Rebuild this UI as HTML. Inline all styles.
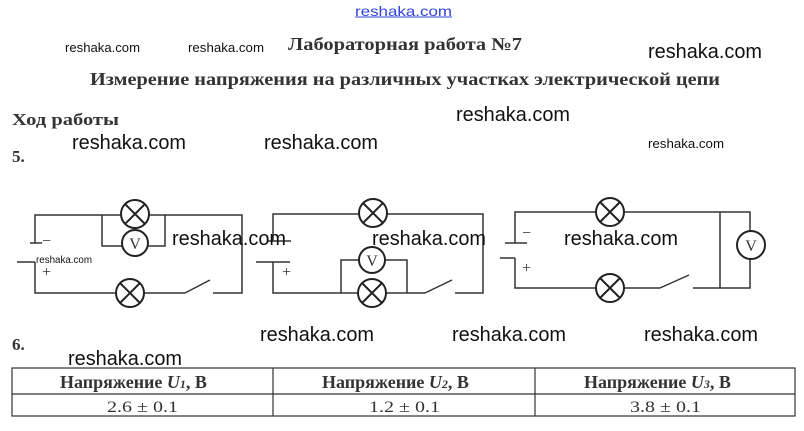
<!DOCTYPE html>
<html><head><meta charset="utf-8"><style>
html,body{margin:0;padding:0;background:#fff;width:804px;height:431px;overflow:hidden}
svg{display:block}
.t{font-family:"Liberation Serif",serif;font-weight:bold;fill:#333}
.w{font-family:"Liberation Sans","DejaVu Sans",sans-serif;fill:#111}
.l{stroke:#333;stroke-width:1.5;fill:none}
.c{stroke:#222;stroke-width:2;fill:#fff}
.v{font-family:"Liberation Serif",serif;font-size:16px;fill:#333}
</style></head><body>
<svg width="804" height="431" viewBox="0 0 804 431">
<text x="355" y="16" class="w" font-size="14" style="fill:#3344dd" textLength="97" lengthAdjust="spacingAndGlyphs">reshaka.com</text>
<line x1="355" y1="17" x2="452" y2="17" stroke="#3344dd" stroke-width="1"/>
<text x="288" y="50" class="t" font-size="18" textLength="234" lengthAdjust="spacingAndGlyphs">Лабораторная работа №7</text>
<text x="90" y="85" class="t" font-size="18" textLength="630" lengthAdjust="spacingAndGlyphs">Измерение напряжения на различных участках электрической цепи</text>
<text x="12" y="125" class="t" font-size="17" textLength="107" lengthAdjust="spacingAndGlyphs">Ход работы</text>
<text x="12" y="162" class="t" font-size="17">5.</text>
<text x="12" y="350" class="t" font-size="17">6.</text>

<text x="65" y="52" class="w" font-size="13" textLength="75" lengthAdjust="spacingAndGlyphs">reshaka.com</text>
<text x="188" y="52" class="w" font-size="13" textLength="76" lengthAdjust="spacingAndGlyphs">reshaka.com</text>
<text x="648" y="58" class="w" font-size="20" textLength="114" lengthAdjust="spacingAndGlyphs">reshaka.com</text>
<text x="456" y="121" class="w" font-size="20" textLength="114" lengthAdjust="spacingAndGlyphs">reshaka.com</text>
<text x="72" y="149" class="w" font-size="20" textLength="114" lengthAdjust="spacingAndGlyphs">reshaka.com</text>
<text x="264" y="149" class="w" font-size="20" textLength="114" lengthAdjust="spacingAndGlyphs">reshaka.com</text>
<text x="648" y="148" class="w" font-size="13" textLength="76" lengthAdjust="spacingAndGlyphs">reshaka.com</text>

<!-- circuit 1 -->
<path class="l" d="M35 243 V215 H242 V293 H213 M185 293 H35 V262 M102 215 V246 H165 V215"/>
<line class="l" x1="185" y1="293" x2="210" y2="280"/>
<line class="l" x1="30" y1="243" x2="42" y2="243"/>
<line class="l" x1="17" y1="262" x2="35" y2="262"/>
<text x="42" y="246" class="v" font-size="14">−</text>
<text x="42" y="277" class="v" font-size="14">+</text>
<g class="c"><circle cx="135" cy="214" r="14"/><path d="M125 204 L145 224 M145 204 L125 224"/></g>
<circle class="c" cx="135" cy="243" r="13"/><text x="135" y="249" class="v" text-anchor="middle">V</text>
<g class="c"><circle cx="130" cy="293" r="14"/><path d="M120 283 L140 303 M140 283 L120 303"/></g>

<!-- circuit 2 -->
<path class="l" d="M273 241 V214 H483 V293 H455 M425 293 H273 V262 M341 293 V260 H407 V293"/>
<line class="l" x1="425" y1="293" x2="452" y2="280"/>
<line class="l" x1="267" y1="241" x2="291" y2="241"/>
<line class="l" x1="256" y1="262" x2="290" y2="262"/>
<text x="282" y="277" class="v" font-size="14">+</text>
<g class="c"><circle cx="373" cy="213" r="14"/><path d="M363 203 L383 223 M383 203 L363 223"/></g>
<circle class="c" cx="372" cy="260" r="13"/><text x="372" y="266" class="v" text-anchor="middle">V</text>
<g class="c"><circle cx="372" cy="293" r="14"/><path d="M362 283 L382 303 M382 283 L362 303"/></g>

<!-- circuit 3 -->
<path class="l" d="M515 243 V212 H750 V288 H693 M660 288 H515 V258 M720 212 V288"/>
<line class="l" x1="660" y1="288" x2="689" y2="275"/>
<line class="l" x1="505" y1="243" x2="527" y2="243"/>
<line class="l" x1="500" y1="258" x2="515" y2="258"/>
<text x="522" y="238" class="v" font-size="14">−</text>
<text x="522" y="273" class="v" font-size="14">+</text>
<g class="c"><circle cx="610" cy="212" r="14"/><path d="M600 202 L620 222 M620 202 L600 222"/></g>
<circle class="c" cx="751" cy="245" r="14"/><text x="751" y="251" class="v" text-anchor="middle">V</text>
<g class="c"><circle cx="610" cy="288" r="14"/><path d="M600 278 L620 298 M620 278 L600 298"/></g>

<text x="172" y="245" class="w" font-size="20" textLength="114" lengthAdjust="spacingAndGlyphs">reshaka.com</text>
<text x="372" y="245" class="w" font-size="20" textLength="114" lengthAdjust="spacingAndGlyphs">reshaka.com</text>
<text x="564" y="245" class="w" font-size="20" textLength="114" lengthAdjust="spacingAndGlyphs">reshaka.com</text>
<text x="36" y="263" class="w" font-size="10" textLength="56" lengthAdjust="spacingAndGlyphs">reshaka.com</text>

<text x="260" y="341" class="w" font-size="20" textLength="114" lengthAdjust="spacingAndGlyphs">reshaka.com</text>
<text x="452" y="341" class="w" font-size="20" textLength="114" lengthAdjust="spacingAndGlyphs">reshaka.com</text>
<text x="644" y="341" class="w" font-size="20" textLength="114" lengthAdjust="spacingAndGlyphs">reshaka.com</text>
<text x="68" y="365" class="w" font-size="20" textLength="114" lengthAdjust="spacingAndGlyphs">reshaka.com</text>

<!-- table -->
<g stroke="#333" stroke-width="1.2" fill="none">
<rect x="12" y="368" width="783" height="48"/>
<line x1="12" y1="394" x2="795" y2="394"/>
<line x1="273" y1="368" x2="273" y2="416"/>
<line x1="535" y1="368" x2="535" y2="416"/>
</g>
<text x="60" y="388" class="t" font-size="18">Напряжение <tspan font-style="italic">U<tspan font-size="12">1</tspan></tspan>, В</text>
<text x="322" y="388" class="t" font-size="18">Напряжение <tspan font-style="italic">U<tspan font-size="12">2</tspan></tspan>, В</text>
<text x="584" y="388" class="t" font-size="18">Напряжение <tspan font-style="italic">U<tspan font-size="12">3</tspan></tspan>, В</text>
<text x="107" y="412" class="v" font-size="19" textLength="71" lengthAdjust="spacingAndGlyphs">2.6 ± 0.1</text>
<text x="369" y="412" class="v" font-size="19" textLength="71" lengthAdjust="spacingAndGlyphs">1.2 ± 0.1</text>
<text x="630" y="412" class="v" font-size="19" textLength="71" lengthAdjust="spacingAndGlyphs">3.8 ± 0.1</text>
</svg>
</body></html>
